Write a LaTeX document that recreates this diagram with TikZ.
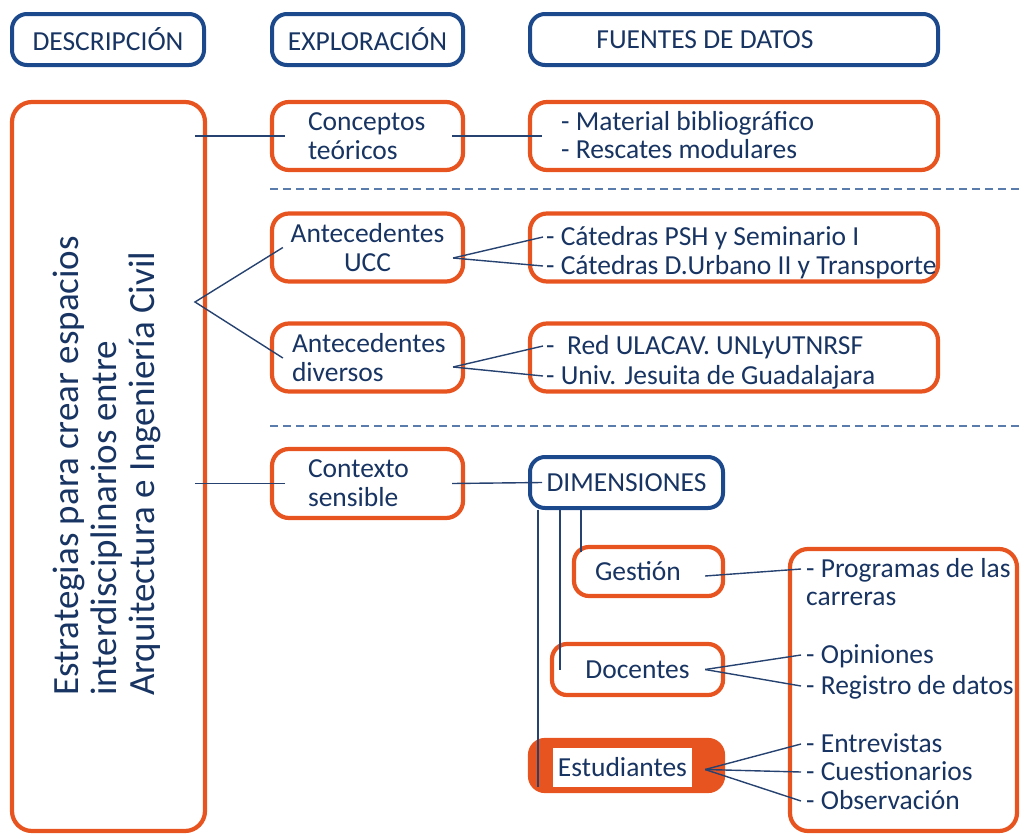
\documentclass[tikz,border=0pt]{standalone}
\usepackage{fontspec}
\setmainfont{Carlito}
\usetikzlibrary{calc}
\definecolor{orng}{RGB}{232,84,32}
\definecolor{navy}{RGB}{28,72,140}
\definecolor{ink}{RGB}{24,52,98}
\definecolor{wirecol}{RGB}{38,66,112}
\definecolor{sepcol}{RGB}{90,124,172}
\begin{document}
\begin{tikzpicture}[x=1pt,y=-1pt,
  every node/.style={text=ink, font=\fontsize{27.5}{29}\selectfont},
  hbox/.style={draw=navy, line width=4pt, rounded corners=15pt,
    minimum height=51pt, inner sep=0pt},
  obox/.style={draw=orng, line width=4.2pt, rounded corners=17pt,
    minimum width=191pt, minimum height=68pt, inner sep=0pt},
  sbox/.style={obox, minimum width=408pt},
  item/.style={anchor=base west, inner sep=0pt},
  wire/.style={draw=wirecol, line width=1.4pt},
  sepline/.style={draw=sepcol, line width=1.4pt, dash pattern=on 8pt off 5pt}
]
\useasboundingbox (0,0) rectangle (1021,836);

% column headers
\node[hbox, minimum width=192pt] (hdesc) at (108,39.5) {DESCRIPCIÓN};
\node[hbox, minimum width=191pt] (hexpl) at (367.5,39.5) {EXPLORACIÓN};
\node[hbox, minimum width=408pt] (hfuen) at (734,39.5) {};
\node[inner sep=0pt] (hfuentxt) at (705,39.5) {FUENTES DE DATOS};

% description column
\node[obox, minimum width=193pt, minimum height=729pt, rounded corners=20pt]
  (main) at (108.5,466.5) {};
\node[rotate=90, align=left, inner sep=0pt,
  font=\fontsize{37}{38}\selectfont] (maintxt) at (107,466)
  {Estrategias para crear espacios\\interdisciplinarios entre\\Arquitectura e Ingeniería Civil};

% exploration column
\node[obox, align=left, text width=119pt] (conc) at (367.5,136) {Conceptos\\teóricos};
\node[obox, align=center] (aucc) at (367.5,247.5) {Antecedentes\\UCC};
\node[obox, align=left, text width=151pt] (adiv) at (367.5,357.5) {Antecedentes\\diversos};
\node[obox, align=left, text width=119pt, minimum height=69pt] (ctx) at (367.5,483.5) {Contexto\\sensible};

% data sources
\node[sbox] (src1) at (734,136) {};
\node[item] (s1a) at (561,130) {- Material bibliográfico};
\node[item] (s1b) at (561,158) {- Rescates modulares};

\node[sbox] (src2) at (734,247.5) {};
\node[item] (s2a) at (546,245) {- Cátedras PSH y Seminario I};
\node[item] (s2b) at (546,274) {- Cátedras D.Urbano II y Transporte};

\node[sbox] (src3) at (734,357.5) {};
\node[item] (s3a) at (546,354) {-\ \ Red ULACAV. UNLyUTNRSF};
\node[item] (s3b) at (546,384) {- Univ. Jesuita de Guadalajara};

% separators
\coordinate (sep1a) at (270,189);
\coordinate (sep1b) at (1021,189);
\coordinate (sep2a) at (270,426);
\coordinate (sep2b) at (1021,426);
\draw[sepline] (sep1a) -- (sep1b);
\draw[sepline] (sep2a) -- (sep2b);

% dimensions
\node[hbox, minimum width=193pt] (dim) at (626.5,482.5) {DIMENSIONES};
\node[obox, minimum width=149pt, minimum height=49pt, rounded corners=15pt]
  (ges) at (648.5,571.5) {};
\node[inner sep=0pt] (gestxt) at (638,571.5) {Gestión};
\node[obox, minimum width=171pt, minimum height=51pt, rounded corners=15pt]
  (doc) at (637.5,669.5) {Docentes};
\node[obox, fill=orng, minimum width=193pt, minimum height=51pt, rounded corners=15pt]
  (est) at (626.5,765.5) {};
\node[fill=white, minimum width=139pt, minimum height=39pt, inner sep=0pt]
  (esttxt) at (622.5,767.5) {Estudiantes};

\node[obox, minimum width=227pt, minimum height=282pt, rounded corners=18pt]
  (src4) at (903.5,690) {};
\node[item] (s4a) at (806,577) {- Programas de las};
\node[item] (s4b) at (806,605) {carreras};
\node[item] (s4c) at (806,663) {- Opiniones};
\node[item] (s4d) at (806,694) {- Registro de datos};
\node[item] (s4e) at (806,752) {- Entrevistas};
\node[item] (s4f) at (806,780) {- Cuestionarios};
\node[item] (s4g) at (806,809) {- Observación};

% connectors: description to exploration
\coordinate (fork) at (195,302);
\draw[wire] (main.east |- conc.center) ++(-12,0) -- ([xshift=15pt]conc.west);
\draw[wire] (main.east |- ctx.center) ++(-12,0) -- ([xshift=15pt]ctx.west);
\draw[wire] ([xshift=13pt]aucc.west) -- (fork) -- ([xshift=13pt,yshift=-0.5pt]adiv.west);

% exploration to data sources
\draw[wire] ([xshift=-13pt]conc.east) -- ([xshift=14pt]src1.west);
\coordinate (ua) at ([xshift=-12pt,yshift=-10.5pt]aucc.east);
\draw[wire] (ua) -- ([xshift=-3pt,yshift=8pt]s2a.base west);
\draw[wire] (ua) -- ([xshift=-3pt,yshift=8pt]s2b.base west);
\coordinate (da) at ([xshift=-12pt,yshift=-9.5pt]adiv.east);
\draw[wire] (da) -- ([xshift=-3pt,yshift=8pt]s3a.base west);
\draw[wire] (da) -- ([xshift=-3pt,yshift=8pt]s3b.base west);
\draw[wire] ([xshift=-13pt]ctx.east) -- ([xshift=14pt]dim.west);

% dimensions to their boxes
\coordinate (estfoot) at (538,787);
\coordinate (docfoot) at (560,670);
\coordinate (gesfoot) at (581,552);
\draw[wire] (dim.south west -| estfoot) -- (estfoot);
\draw[wire] (dim.south west -| docfoot) -- (docfoot);
\draw[wire] (dim.south west -| gesfoot) -- (gesfoot);

% dimensions to data sources
\draw[wire] ([xshift=-20pt,yshift=-4.5pt]ges.east) -- ([xshift=-5pt,yshift=8pt]s4a.base west);
\coordinate (dd) at ([xshift=-20pt]doc.east);
\draw[wire] (dd) -- ([xshift=-5pt,yshift=8pt]s4c.base west);
\draw[wire] (dd) -- ([xshift=-5pt,yshift=8pt]s4d.base west);
\coordinate (ed) at ([xshift=-20pt,yshift=-4pt]est.east);
\draw[wire] (ed) -- ([xshift=-5pt,yshift=8pt]s4e.base west);
\draw[wire] (ed) -- ([xshift=-5pt,yshift=8pt]s4f.base west);
\draw[wire] (ed) -- ([xshift=-5pt,yshift=8pt]s4g.base west);
\end{tikzpicture}
\end{document}
